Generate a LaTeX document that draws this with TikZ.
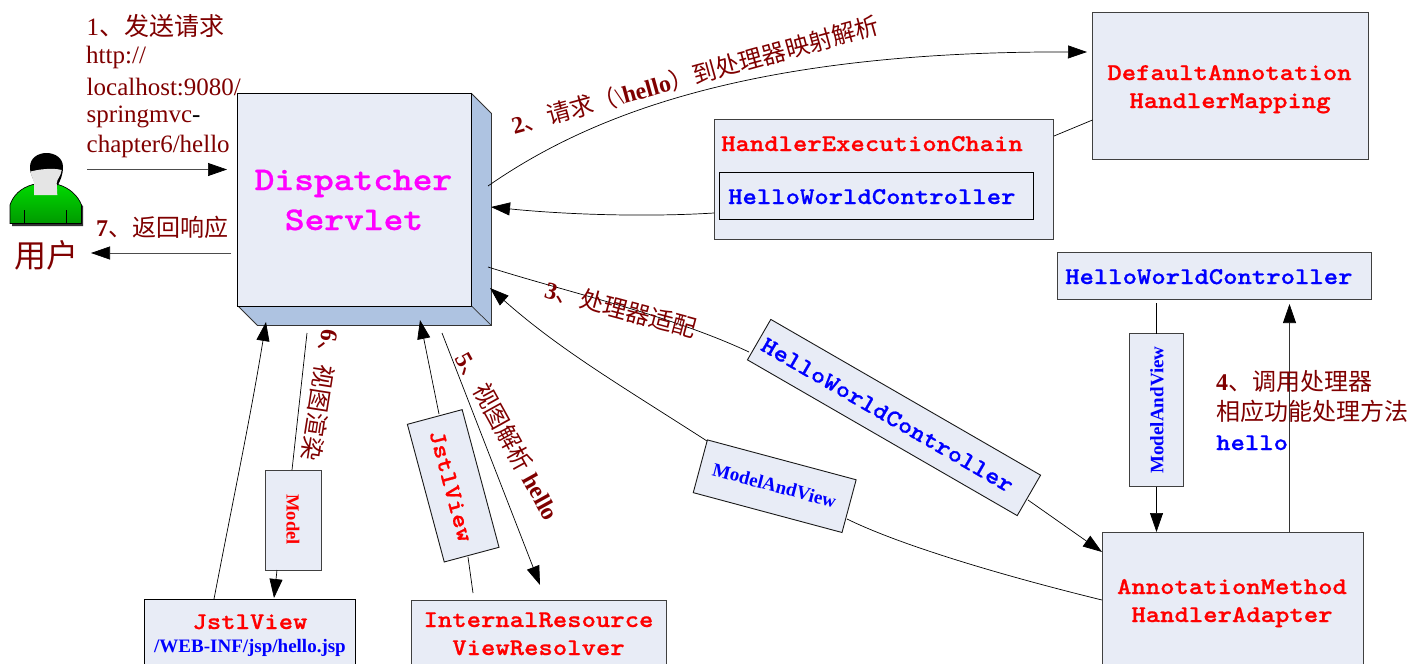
\documentclass[tikz,border=0pt]{standalone}
\usepackage{fontspec}
\setmainfont{Liberation Serif}
\newfontfamily\cjk{Noto Sans CJK SC}
\newfontfamily\slab[Extension=.otf,FakeStretch=1.14,FakeBold=0.8]{lmmonolt10-bold}
\usetikzlibrary{arrows.meta,calc}
\definecolor{boxfill}{HTML}{E8ECF6}
\definecolor{sidefill}{HTML}{AEC3E1}
\definecolor{darkred}{HTML}{7F0000}
\definecolor{pureblue}{HTML}{0000FF}
\definecolor{puremag}{HTML}{FF00FF}
\definecolor{purered}{HTML}{FF0000}
\tikzset{
  box/.style={draw=black!75,fill=boxfill,line width=.9pt,inner sep=0pt,outer sep=0pt,anchor=north west},
  conn/.style={draw=black,line width=.7pt,-{Triangle[length=19pt,width=13pt,black]}},
  plain/.style={draw=black,line width=.7pt},
  lab/.style={text=darkred,inner sep=0pt},
  code/.style={font=\slab\fs{24},inner sep=0pt,align=center},
}
\newcommand{\fs}[1]{\fontsize{#1}{#1}\selectfont}
\newcommand{\cn}[1]{{\cjk #1}}
\begin{document}
\begin{tikzpicture}[x=1pt,y=-1pt]
\useasboundingbox (0,0) rectangle (1411,664);
% user
\path[fill=black!80] (12,226) -- (83,226) -- (83,206) -- (60,187) -- (30,187) -- (12,206) -- cycle;
\path[draw=black,top color=green!85!black,bottom color=green!60!black,line width=.7pt] (10,223.500) -- (81.500,223.500) -- (81.500,205) .. controls (78,196) and (70,188) .. (58,184.500) -- (33,184.500) .. controls (20,188) and (13,196) .. (10,205) -- cycle;
\draw[black,line width=.5pt] (24.300,210) -- (24.300,223) (66.300,210) -- (66.300,223);
\fill[black] (30,167) .. controls (30,158) and (38,153) .. (46.500,153) .. controls (55,153) and (63,158) .. (63,167) .. controls (63,175) and (60,181) .. (58,185) -- (36,185) .. controls (34,180) and (30,175) .. (30,167) -- cycle;
\path[fill=black!10] (30.700,171.500) .. controls (38,169.500) and (52,167.500) .. (61.700,170) .. controls (61,176) and (57,179) .. (56.700,183) -- (57.300,195) -- (34,195) -- (34,183) .. controls (33,178) and (31,176) .. (30.700,171.500) -- cycle;
\node[lab,font=\fs{32}\cjk] (user) at (46,255) {用户};
% dispatcher servlet
\path[draw=black!80,fill=sidefill,line width=.9pt] (471.500,93.500) -- (491.500,113.500) -- (491.500,325.500) -- (257.500,325.500) -- (237.500,305.500) -- cycle;
\node[box,draw=black,minimum width=234pt,minimum height=212.500pt] (ds) at (237.500,93.500) {};
\draw[black!80,line width=.7pt] (471.500,306) -- (491.500,325.500);
\node[code,text=puremag,font=\slab\fs{33},anchor=base] at (353.500,190) {Dispatcher};
\node[code,text=puremag,font=\slab\fs{33},anchor=base] at (354,230) {Servlet};
% other boxes
\node[box,minimum width=276pt,minimum height=147pt] (hm) at (1092.500,12.500) {};
\node[code,text=purered,anchor=base] at (1229.500,80) {DefaultAnnotation};
\node[code,text=purered,anchor=base] at (1230,108) {HandlerMapping};
\node[box,minimum width=339pt,minimum height=119.500pt] (hec) at (714.500,119.500) {};
\node[code,text=purered,anchor=base west] at (721,151) {HandlerExecutionChain};
\node[box,draw=black,minimum width=314pt,minimum height=46.500pt] (hwc1) at (719.500,172.500) {};
\node[code,text=pureblue,anchor=base west] at (728,204) {HelloWorldController};
\node[box,minimum width=314pt,minimum height=46.500pt] (hwc2) at (1057.500,252.500) {};
\node[code,text=pureblue,anchor=base west] at (1065,284) {HelloWorldController};
\node[box,minimum width=261pt,minimum height=150pt] (aa) at (1102.500,532.500) {};
\node[code,text=purered,anchor=base] at (1232,594) {AnnotationMethod};
\node[code,text=purered,anchor=base] at (1232,622) {HandlerAdapter};
\node[box,draw=black,minimum width=211pt,minimum height=80pt] (jv) at (144.500,599.500) {};
\node[code,text=purered,anchor=base] at (250,629) {JstlView};
\node[inner sep=0pt,text=pureblue,font=\rmfamily\bfseries\fs{19},anchor=base] at (250,652) {/WEB-INF/jsp/hello.jsp};
\node[box,minimum width=255pt,minimum height=80pt] (irv) at (411,600) {};
\node[code,text=purered,anchor=base] at (538.500,627) {InternalResource};
\node[code,text=purered,anchor=base] at (538.500,655) {ViewResolver};
% inline boxes
\node[box,anchor=center,minimum width=56pt,minimum height=100pt] (model) at (293,520) {};
\node[rotate=-90,text=purered,font=\rmfamily\bfseries\fs{18.500},inner sep=0pt] at (293,519.500) {Model};
\node[box,anchor=center,minimum width=54pt,minimum height=153pt] (mv1) at (1156.500,410) {};
\node[rotate=90,text=pureblue,font=\rmfamily\bfseries\fs{19},inner sep=0pt] at (1157,410) {ModelAndView};
\node[box,draw=black!90,anchor=center,rotate=-75,minimum width=142.500pt,minimum height=56.700pt] (jvb) at (453.200,485.800) {};
\node[code,text=purered,rotate=-75,font=\slab\fs{24}] at (451,486) {JstlView};
\node[box,draw=black!90,anchor=center,rotate=-30,minimum width=311.500pt,minimum height=46.700pt] (hwcb) at (894,417.500) {};
\node[code,text=pureblue,rotate=-30] at (887.500,415) {HelloWorldController};
\node[box,draw=black!90,anchor=center,rotate=-15,minimum width=154pt,minimum height=54.600pt] (mvb) at (774.700,486.200) {};
\node[text=pureblue,rotate=-15,font=\rmfamily\bfseries\fs{19},inner sep=0pt] at (774.500,485.500) {ModelAndView};
% free ends of connectors
\coordinate (a1s) at (87,169.500); \coordinate (a1e) at (227,169.500);
\coordinate (a7s) at (231,253); \coordinate (a7e) at (91,253);
\coordinate (a2s) at (488,186); \coordinate (a2e) at (1087,52);
\coordinate (a2b) at (714,213); \coordinate (a2be) at (491,207);
\coordinate (a3s) at (488,267);
\coordinate (a6s) at (307,333); \coordinate (a6e) at (274,598);
\coordinate (a5s) at (442,333); \coordinate (a5e) at (540,585);
\coordinate (jvu) at (473,593); \coordinate (jvue) at (420,320);
\coordinate (jvs) at (214,599); \coordinate (jvse) at (266,322);
\coordinate (mvt) at (1156.500,303); \coordinate (hwcu) at (1289.500,532); \coordinate (hwcue) at (1289.500,304);
\coordinate (mva) at (1156.500,532); \coordinate (rs) at (1102,600); \coordinate (rm) at (847,519);
\coordinate (rme) at (707,441); \coordinate (rmt) at (490,288);
\coordinate (c3a) at (749,352); \coordinate (c3b) at (1028,500); \coordinate (c3e) at (1102,552);
\coordinate (hecr) at (1054,136); \coordinate (hml) at (1092.500,120);
% connectors
\draw[conn,draw=black!70] (a1s) -- (a1e);
\draw[conn,draw=black!70] (a7s) -- (a7e);
\draw[conn] (a2s) .. controls (590,115) and (751,51) .. (a2e);
\draw[conn] (a2b) .. controls (650,217) and (570,215) .. (a2be);
\draw[plain] (hecr) -- (hml);
\draw[plain] (a3s) .. controls (570,293) and (670,315) .. (c3a);
\draw[conn] (c3b) -- (c3e);
\draw[plain] (mvt) -- (mv1.north);
\draw[conn] (mv1.south) -- (mva);
\draw[conn,draw=black!80] (hwcu) -- (hwcue);
\draw[plain] (a6s) -- (292,470);
\draw[conn] (277,570) -- (a6e);
\draw[conn] (jvs) .. controls (235,490) and (250,420) .. (jvse);
\draw[plain] (jvu) -- (468,557);
\draw[conn] (439,414) -- (jvue);
\draw[conn] (a5s) -- (a5e);
\draw[plain] (rs) .. controls (1000,575) and (900,545) .. (rm);
\draw[conn] (rme) .. controls (620,385) and (560,350) .. (rmt);
% text
\node[lab,font=\fs{25},anchor=west] at (86.500,26) {1\cn{、发送请求}};
\node[lab,font=\fs{25},anchor=west] at (86,57) {http://};
\node[lab,font=\fs{25},anchor=west] at (86.500,87) {localhost:9080/};
\node[lab,font=\fs{25},anchor=west] at (86.500,117) {springmvc{\color{black}-}};
\node[lab,font=\fs{25},anchor=west] at (86.500,146) {chapter6/hello};
\node[lab,font=\fs{24},anchor=west] at (96,227) {\textbf{7}\cn{、返回响应}};
\node[lab,rotate=15.500,font=\fs{24}] at (695,75) {\textbf{2}\cn{、请求（}\textbackslash\textbf{hello}\cn{）到处理器映射解析}};
\node[lab,rotate=-15,font=\fs{24}] at (621,309) {\textbf{3}\cn{、处理器适配}};
\node[lab,font=\fs{24},anchor=west] at (1216,381) {\textbf{4}\cn{、调用处理器}};
\node[lab,font=\fs{24},anchor=west] at (1216,411) {\cn{相应功能处理方法}};
\node[code,text=pureblue,anchor=base west] at (1216,450) {hello};
\node[lab,rotate=-61,font=\fs{24}] at (508,436) {\textbf{5}\cn{、视图解析} \textbf{hello}};
\node[lab,rotate=-99,font=\fs{24}] at (321,395) {\textbf{6}\cn{、视图渲染}};
\end{tikzpicture}
\end{document}
